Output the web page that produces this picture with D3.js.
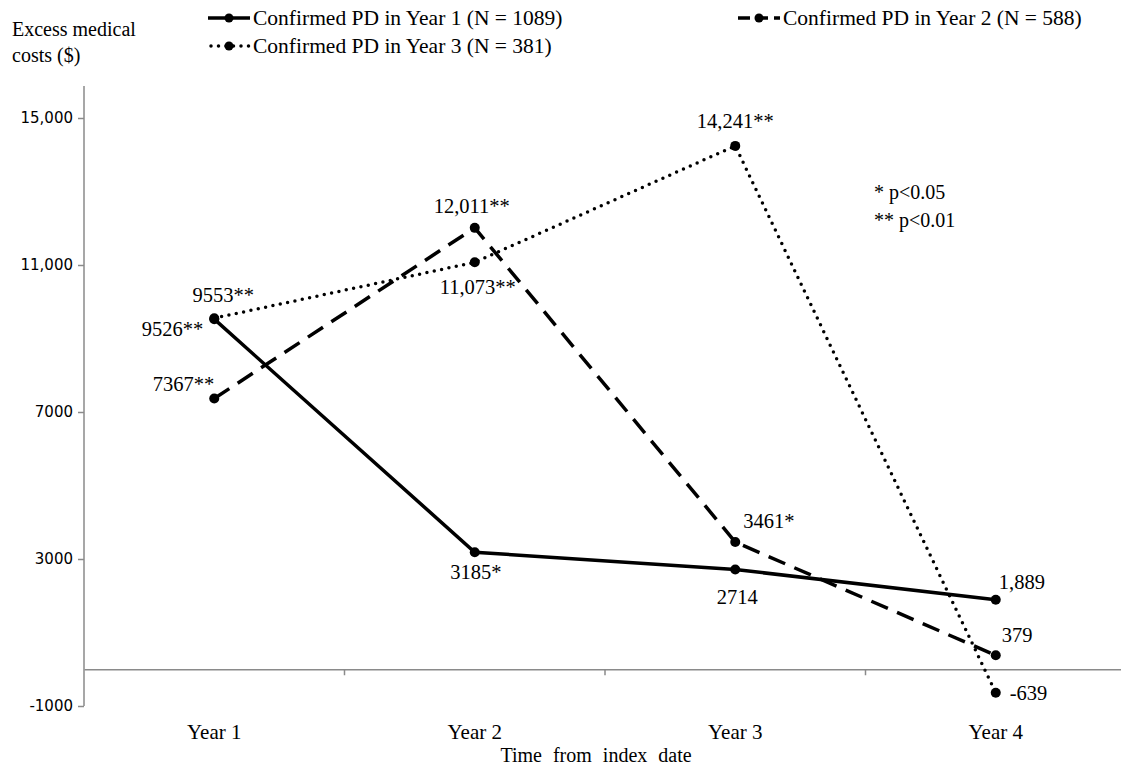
<!DOCTYPE html>
<html>
<head>
<meta charset="utf-8">
<script src="https://cdn.jsdelivr.net/npm/d3@7"></script>
<style>
  body { margin: 0; background: #fff; }
  text { font-family: "Liberation Serif", "Times New Roman", serif; fill: #000; }
  .ytick text { font-family: "DejaVu Sans", Verdana, sans-serif; }
</style>
</head>
<body>
<div id="chart"></div>
<script>
(function () {

  // Data
  const years = ["Year 1", "Year 2", "Year 3", "Year 4"]
  const seriesNames = [
    "Confirmed PD in Year 1 (N = 1089)",
    "Confirmed PD in Year 2 (N = 588)",
    "Confirmed PD in Year 3 (N = 381)"
  ]
  const pdYear1 = [9526, 3185, 2714, 1889]
  const pdYear2 = [7367, 12011, 3461, 379]
  const pdYear3 = [9553, 11073, 14241, -639]
  const labelsYear1 = ["9526**", "3185*", "2714", "1,889"]
  const labelsYear2 = ["7367**", "12,011**", "3461*", "379"]
  const labelsYear3 = ["9553**", "11,073**", "14,241**", "-639"]
  const yTicks = [-1000, 3000, 7000, 11000, 15000]

  const width = 1121
  const height = 768

  const svg = d3.select("#chart").append("svg")
      .attr("width", width)
      .attr("height", height)

  const x = d3.scaleBand()
    .domain(years)
    .range([84, 1126])
    .padding(0)

  const y = d3.scaleLinear()
    .domain([-1000, 15000])
    .range([706, 118])

  const axisColor = "#8a8a8a"

  // y axis
  const yAxis = svg.append("g")
    .attr("class", "ytick")
    .attr("transform", "translate(84,0)")
    .call(d3.axisLeft(y)
      .tickValues(yTicks)
      .tickSize(6)
      .tickPadding(5)
      .tickFormat(d => Math.abs(d) >= 10000 ? d3.format(",")(d) : String(d)))
  yAxis.select(".domain").remove()
  yAxis.selectAll("line").attr("stroke", axisColor).attr("stroke-width", 1.5)
  yAxis.selectAll("text").style("font-size", "15px").attr("fill", "#000")
  yAxis.append("line")
    .attr("y1", 86).attr("y2", y(-1000))
    .attr("stroke", axisColor).attr("stroke-width", 1.5)

  // x axis at zero, ticks between categories
  const xAxis = svg.append("g")
    .attr("transform", "translate(0," + y(0) + ")")
    .call(d3.axisBottom(x).tickSize(0).tickFormat(""))
  xAxis.select(".domain").attr("stroke", axisColor).attr("stroke-width", 1.5)
  xAxis.selectAll(".tick").remove()
  xAxis.selectAll(".bound")
    .data(years.slice(0, -1))
    .join("line")
    .attr("x1", d => x(d) + x.bandwidth())
    .attr("x2", d => x(d) + x.bandwidth())
    .attr("y1", 0).attr("y2", 6)
    .attr("stroke", axisColor).attr("stroke-width", 1.5)

  svg.selectAll(".xlabel")
    .data(years)
    .join("text")
    .attr("x", d => x(d) + x.bandwidth() / 2)
    .attr("y", 739)
    .attr("text-anchor", "middle")
    .style("font-size", "21px")
    .text(d => d)

  svg.append("text")
    .attr("x", 596).attr("y", 762)
    .attr("text-anchor", "middle")
    .style("font-size", "20px")
    .style("word-spacing", "6px")
    .text("Time from index date")

  svg.append("text").attr("x", 12).attr("y", 36).style("font-size", "20px").text("Excess medical")
  svg.append("text").attr("x", 12).attr("y", 62).style("font-size", "20px").text("costs ($)")

  // series
  const styles = [
    { dash: null, cap: "butt", w: 3.5 },
    { dash: "18,10", cap: "butt", w: 3.5 },
    { dash: "0,7.5", cap: "round", w: 3.5 }
  ]
  // label placement: [anchor, dx, dy]
  const placement = [
    [["end", -11, 17], ["middle", 1, 27], ["middle", 2, 34], ["start", 3, -11]],
    [["end", 0, -8], ["middle", -3, -15], ["start", 8, -14], ["start", 6, -13]],
    [["middle", 9, -16], ["middle", 3, 32], ["middle", 0, -18], ["start", 14, 7]]
  ]

  const series = [
    { values: pdYear1, labels: labelsYear1 },
    { values: pdYear2, labels: labelsYear2 },
    { values: pdYear3, labels: labelsYear3 }
  ]

  const cx = d => x(d) + x.bandwidth() / 2
  const line = d3.line()
    .x(d => cx(d.year))
    .y(d => y(d.value))

  series.forEach((s, i) => {
    const pts = years.map((yr, j) => ({ year: yr, value: s.values[j], label: s.labels[j], p: placement[i][j] }))
    const st = styles[i]
    svg.append("path")
      .datum(pts)
      .attr("d", line)
      .attr("fill", "none")
      .attr("stroke", "#000")
      .attr("stroke-width", st.w)
      .attr("stroke-linecap", st.cap)
      .attr("stroke-dasharray", st.dash)
    svg.selectAll(".pt" + i)
      .data(pts)
      .join("circle")
      .attr("cx", d => cx(d.year))
      .attr("cy", d => y(d.value))
      .attr("r", 5)
      .attr("fill", "#000")
    svg.selectAll(".lab" + i)
      .data(pts)
      .join("text")
      .attr("x", d => cx(d.year) + d.p[1])
      .attr("y", d => y(d.value) + d.p[2])
      .attr("text-anchor", d => d.p[0])
      .style("font-size", "20.5px")
      .text(d => d.label)
  })

  // legend
  const legendPos = [[208, 18], [738, 18], [208, 46]]
  seriesNames.forEach((name, i) => {
    const [lx, ly] = legendPos[i]
    const st = styles[i]
    const g = svg.append("g").attr("transform", "translate(" + lx + "," + ly + ")")
    g.append("line")
      .attr("x1", i === 2 ? 3 : 0).attr("x2", 42)
      .attr("stroke", "#000")
      .attr("stroke-width", st.w)
      .attr("stroke-linecap", st.cap)
      .attr("stroke-dasharray", i === 1 ? "12,6" : st.dash)
    g.append("circle").attr("cx", 21).attr("r", 4.5).attr("fill", "#000")
    g.append("text")
      .attr("x", 45).attr("y", 7)
      .style("font-size", "21.5px")
      .text(name)
  })

  // significance note
  svg.append("text").attr("x", 874).attr("y", 199).style("font-size", "20px").text("*  p<0.05")
  svg.append("text").attr("x", 874).attr("y", 227).style("font-size", "20px").text("** p<0.01")

})();
</script>
</body>
</html>
